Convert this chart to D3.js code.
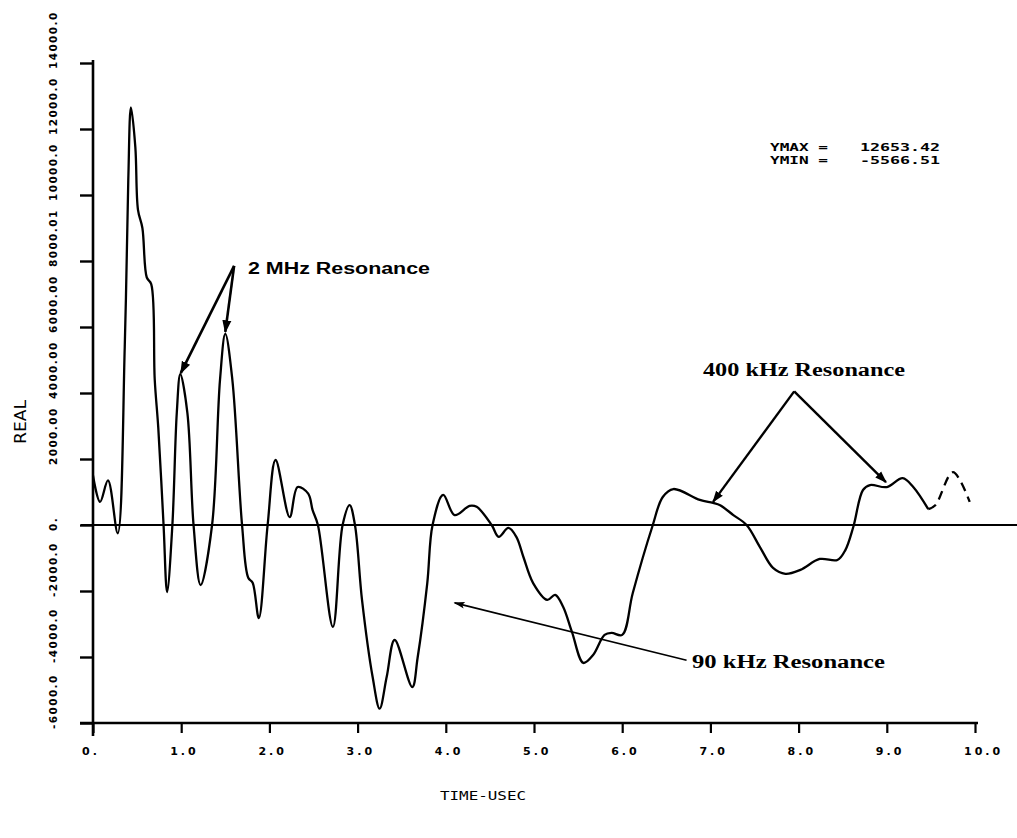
<!DOCTYPE html>
<html>
<head>
<meta charset="utf-8">
<script src="https://cdn.jsdelivr.net/npm/d3@7"></script>
<style>
body { margin: 0; background: #fff; }
svg { display: block; }
</style>
</head>
<body>
<svg id="chart"></svg>
<script>
// time axis (microseconds) and the REAL response
var timeUs = [0.00, 0.08, 0.17, 0.28, 0.36, 0.40, 0.43, 0.48, 0.51, 0.56, 0.61, 0.66, 0.70, 0.74,
  0.80, 0.84, 0.90, 0.95, 0.99, 1.07, 1.14, 1.22, 1.35, 1.44, 1.50, 1.58, 1.69, 1.76, 1.81, 1.88,
  1.98, 2.07, 2.23, 2.32, 2.44, 2.49, 2.55, 2.72, 2.83, 2.91, 2.97, 3.05, 3.17, 3.25, 3.33, 3.42,
  3.62, 3.68, 3.79, 3.85, 3.97, 4.10, 4.27, 4.35, 4.52, 4.60, 4.71, 4.80, 4.88, 4.99, 5.15, 5.24,
  5.33, 5.43, 5.56, 5.67, 5.80, 5.88, 6.00, 6.12, 6.34, 6.46, 6.58, 6.88, 7.03, 7.11, 7.26, 7.41,
  7.56, 7.71, 7.85, 8.02, 8.24, 8.44, 8.53, 8.62, 8.73, 8.81, 9.00, 9.18, 9.30, 9.47, 9.55, 9.75, 9.94];
var realVals = [1500, 700, 1350, -250, 5400, 10450, 12653, 11450, 9550, 9000, 7500, 7300, 4400, 2950,
  0, -2030, 0, 3400, 4570, 3400, 0, -1820, 0, 4400, 5790, 4400, 0, -1600, -1750, -2820,
  0, 1970, 240, 1150, 950, 450, 0, -3090, 0, 600, 0, -2270, -4600, -5566, -4600, -3485,
  -4910, -4030, -1760, 0, 910, 300, 580, 550, 0, -360, -90, -360, -970, -1760, -2270, -2120,
  -2480, -3240, -4180, -3940, -3330, -3270, -3330, -2060, -60, 850, 1090, 760, 670, 600, 300, 0,
  -660, -1300, -1480, -1360, -1030, -1060, -760, -60, 1060, 1210, 1150, 1420, 1150, 480, 600, 1600, 700];

var xTickVals = [0, 1, 2, 3, 4, 5, 6, 7, 8, 9, 10];
var xTickLabels = ['0.', '1.0', '2.0', '3.0', '4.0', '5.0', '6.0', '7.0', '8.0', '9.0', '10.0'];
var yTickVals = [-6000, -4000, -2000, 0, 2000, 4000, 6000, 8000, 10000, 12000, 14000];
var yTickLabels = ['-6000.0', '-4000.0', '-2000.0', '0.', '2000.00', '4000.00', '6000.00',
  '8000.01', '10000.0', '12000.0', '14000.0'];
var statNames = ['YMAX =', 'YMIN ='];
var statVals = ['12653.42', '-5566.51'];

var vWidth = 1017;
var vHeight = 838;

var x = d3.scaleLinear().domain([0, 10]).range([93, 975]);
var y = d3.scaleLinear().domain([-6000, 14000]).range([723, 63]);

var svg = d3.select('#chart')
    .attr('width', vWidth)
    .attr('height', vHeight)
    .style('font-family', 'DejaVu Sans, sans-serif');

// arrow heads
var defs = svg.append('defs');
defs.append('marker')
    .attr('id', 'head')
    .attr('viewBox', '0 0 10 10')
    .attr('refX', 9).attr('refY', 5)
    .attr('markerWidth', 5).attr('markerHeight', 5)
    .attr('markerUnits', 'strokeWidth')
    .attr('orient', 'auto')
    .append('path').attr('d', 'M0,1.5L10,5L0,8.5Z').attr('fill', '#000');
defs.append('marker')
    .attr('id', 'thinhead')
    .attr('viewBox', '0 0 10 10')
    .attr('refX', 9).attr('refY', 5)
    .attr('markerWidth', 9).attr('markerHeight', 7)
    .attr('markerUnits', 'strokeWidth')
    .attr('orient', 'auto')
    .append('path').attr('d', 'M0,2L10,5L0,8L2,5Z').attr('fill', '#000');

// y axis
var yAxis = svg.append('g')
    .attr('transform', 'translate(' + x(0) + ',0)')
    .call(d3.axisLeft(y).tickValues(yTickVals).tickSize(13).tickFormat(''));
yAxis.select('.domain').remove();
yAxis.selectAll('.tick line').attr('stroke', '#000').attr('stroke-width', 2.4);

svg.append('line')
    .attr('x1', x(0)).attr('x2', x(0))
    .attr('y1', y(14000) - 3).attr('y2', y(-6000) + 13)
    .attr('stroke', '#000').attr('stroke-width', 2.6);

// x axis
var xAxis = svg.append('g')
    .attr('transform', 'translate(0,' + y(-6000) + ')')
    .call(d3.axisBottom(x).tickValues(xTickVals).tickSize(10).tickFormat(''));
xAxis.select('.domain').remove();
xAxis.selectAll('.tick line').attr('stroke', '#000').attr('stroke-width', 2.2);

svg.append('line')
    .attr('x1', x(0) - 13).attr('x2', x(10) + 3)
    .attr('y1', y(-6000)).attr('y2', y(-6000))
    .attr('stroke', '#000').attr('stroke-width', 2.6);

// zero line
svg.append('line')
    .attr('x1', x(0) - 12).attr('x2', vWidth)
    .attr('y1', y(0)).attr('y2', y(0))
    .attr('stroke', '#000').attr('stroke-width', 2.2);

// tick labels
svg.append('g').selectAll('text')
    .data(xTickVals)
    .enter().append('text')
    .attr('x', function (d) { return x(d) - 11; })
    .attr('y', 755)
    .attr('font-size', 11)
    .attr('font-weight', 'bold')
    .attr('letter-spacing', 3)
    .text(function (d, i) { return xTickLabels[i]; });

svg.append('g').selectAll('text')
    .data(yTickVals)
    .enter().append('text')
    .attr('transform', function (d) { return 'translate(57,' + (y(d) + 6) + ') rotate(-90)'; })
    .attr('font-size', 10.5)
    .attr('font-weight', 'bold')
    .attr('letter-spacing', 1.4)
    .text(function (d, i) { return yTickLabels[i]; });

// axis titles
svg.append('text')
    .attr('transform', 'translate(26,422) rotate(-90)')
    .attr('text-anchor', 'middle')
    .attr('font-size', 16)
    .attr('textLength', 44).attr('lengthAdjust', 'spacingAndGlyphs')
    .text('REAL');

svg.append('text')
    .attr('x', 440).attr('y', 800)
    .style('font-family', 'DejaVu Sans Mono, monospace')
    .attr('font-size', 13)
    .attr('textLength', 86).attr('lengthAdjust', 'spacingAndGlyphs')
    .text('TIME-USEC');

// YMAX / YMIN block
var stats = svg.append('g').style('font-family', 'DejaVu Sans Mono, monospace')
    .attr('font-size', 10).attr('font-weight', 'bold');
stats.selectAll('.sn').data(statNames).enter().append('text')
    .attr('x', 770).attr('y', function (d, i) { return 151 + i * 13; })
    .attr('textLength', 58).attr('lengthAdjust', 'spacingAndGlyphs')
    .text(function (d) { return d; });
stats.selectAll('.sv').data(statVals).enter().append('text')
    .attr('x', 860).attr('y', function (d, i) { return 151 + i * 13; })
    .attr('textLength', 80).attr('lengthAdjust', 'spacingAndGlyphs')
    .text(function (d) { return d; });

// the trace
var pts = timeUs.map(function (t, i) { return [t, realVals[i]]; });
var vLine = d3.line()
    .x(function (d) { return x(d[0]); })
    .y(function (d) { return y(d[1]); })
    .curve(d3.curveCatmullRom.alpha(0.5));

svg.append('path')
    .datum(pts.filter(function (d) { return d[0] <= 9.47; }))
    .attr('d', vLine)
    .attr('fill', 'none').attr('stroke', '#000').attr('stroke-width', 2.3)
    .attr('stroke-linejoin', 'round');
svg.append('path')
    .datum(pts.filter(function (d) { return d[0] >= 9.47; }))
    .attr('d', vLine)
    .attr('fill', 'none').attr('stroke', '#000').attr('stroke-width', 2.3)
    .attr('stroke-dasharray', '9,6');

// annotations: arrows drawn in data space
function arrow(from, to, w, marker) {
    svg.append('line')
        .attr('x1', x(from[0])).attr('y1', y(from[1]))
        .attr('x2', x(to[0])).attr('y2', y(to[1]))
        .attr('stroke', '#000').attr('stroke-width', w)
        .attr('marker-end', 'url(#' + marker + ')');
}

arrow([1.60, 7850], [0.995, 4600], 2.6, 'head');
arrow([1.60, 7850], [1.50, 5850], 2.6, 'head');
arrow([7.95, 4050], [7.03, 700], 2.4, 'head');
arrow([7.95, 4050], [8.99, 1300], 2.4, 'head');
arrow([6.73, -4100], [4.10, -2360], 1.6, 'thinhead');

svg.append('text')
    .attr('x', 248).attr('y', 274)
    .style('font-family', '"Liberation Sans", Arial, sans-serif')
    .attr('font-weight', 'bold').attr('font-size', 16)
    .attr('textLength', 182).attr('lengthAdjust', 'spacingAndGlyphs')
    .text('2 MHz Resonance');

svg.append('text')
    .attr('x', 703).attr('y', 376)
    .style('font-family', '"Liberation Serif", serif')
    .attr('font-weight', 'bold').attr('font-size', 18)
    .attr('textLength', 202).attr('lengthAdjust', 'spacingAndGlyphs')
    .text('400 kHz Resonance');

svg.append('text')
    .attr('x', 692).attr('y', 668)
    .style('font-family', '"Liberation Serif", serif')
    .attr('font-weight', 'bold').attr('font-size', 18)
    .attr('textLength', 193).attr('lengthAdjust', 'spacingAndGlyphs')
    .text('90 kHz Resonance');
</script>
</body>
</html>
